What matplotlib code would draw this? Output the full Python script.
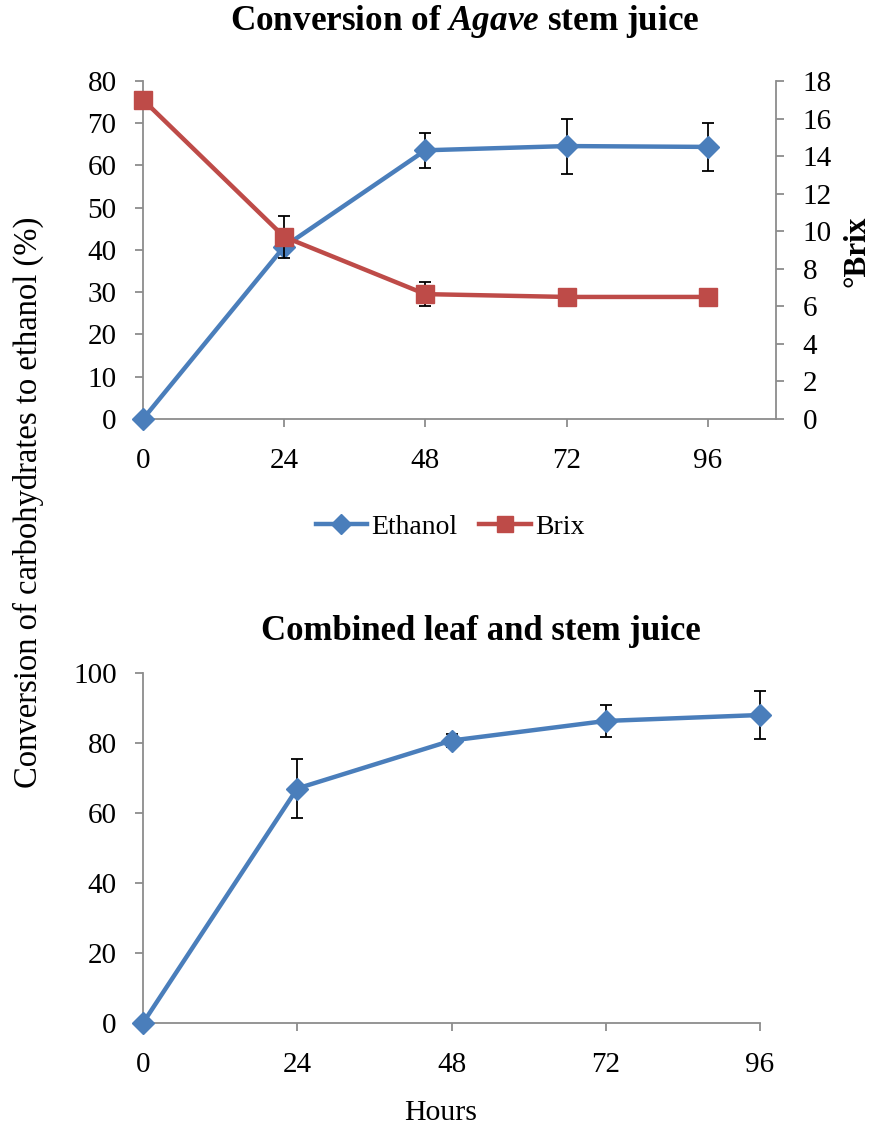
import matplotlib
matplotlib.use("Agg")
import matplotlib.pyplot as plt
from matplotlib.lines import Line2D

plt.rcParams['font.family'] = ['Liberation Serif', 'DejaVu Serif']
plt.rcParams['mathtext.fontset'] = 'custom'
plt.rcParams['mathtext.bfit'] = 'Liberation Serif:italic:bold'
plt.rcParams['mathtext.rm'] = 'Liberation Serif'
plt.rcParams['mathtext.it'] = 'Liberation Serif:italic'
plt.rcParams['mathtext.bf'] = 'Liberation Serif:bold'

hours = [0, 24, 48, 72, 96]
stem_ethanol = [0, 40.8, 63.6, 64.6, 64.4]
stem_ethanol_err = [0, 0, 4.1, 6.5, 5.7]
stem_brix = [17.0, 9.7, 6.65, 6.5, 6.5]
stem_brix_err = [0, 1.12, 0.65, 0, 0]
comb_ethanol = [0, 67.0, 80.7, 86.3, 88.0]
comb_ethanol_err = [0, 8.4, 1.9, 4.5, 6.9]
xticks = [0, 24, 48, 72, 96]

BLUE = '#4A7EBB'
RED = '#BE4B48'
GRAY = '#8C8C8C'
W, H = 873, 1131
TICK_FS = 21

fig = plt.figure(figsize=(W / 100, H / 100), dpi=100)

def ax_rect(l, r, t, b):
    return [l / W, 1 - b / H, (r - l) / W, (b - t) / H]

def style(ax):
    ax.spines['top'].set_visible(False)
    ax.spines['right'].set_visible(False)
    for s in ax.spines.values():
        s.set_color(GRAY)
        s.set_linewidth(1.3)
    ax.tick_params(colors=GRAY, labelcolor='black', labelsize=TICK_FS, length=6, width=1.3)
    ax.tick_params(axis='y', pad=13)
    ax.tick_params(axis='x', pad=15)

# Top chart
ax1 = fig.add_axes(ax_rect(143, 776, 81, 419))
ax1.set_xlim(0, 107.6)
ax1.set_ylim(0, 80)
ax1.set_yticks(range(0, 81, 10))
ax1.set_xticks(xticks)
style(ax1)
ax1.errorbar(hours, stem_ethanol, yerr=stem_ethanol_err, color=BLUE, lw=3.2,
             marker='D', ms=11, ecolor='black', elinewidth=1.3, capsize=4,
             capthick=1.3, clip_on=False, zorder=3)

ax2 = ax1.twinx()
ax2.set_ylim(0, 18)
ax2.set_yticks(range(0, 19, 2))
for s in ['top', 'left', 'bottom']:
    ax2.spines[s].set_visible(False)
ax2.spines['right'].set_color(GRAY)
ax2.spines['right'].set_linewidth(1.3)
ax2.tick_params(colors=GRAY, labelcolor='black', labelsize=TICK_FS, length=6,
                width=1.3, pad=13)
ax2.errorbar(hours, stem_brix, yerr=stem_brix_err, color=RED, lw=3.2,
             marker='s', ms=13, ecolor='black', elinewidth=1.3, capsize=4,
             capthick=1.3, clip_on=False, zorder=3)
fig.text(857 / W, 1 - 251 / H, '°Brix', rotation=90, ha='center', va='center',
         fontsize=22.5, fontweight='bold')

fig.text(465 / W, 1 - 22 / H, 'Conversion of $\\mathbfit{Agave}$ stem juice',
         ha='center', va='center', fontsize=25.3, fontweight='bold')

handles = [Line2D([], [], color=BLUE, lw=3.2, marker='D', ms=10),
           Line2D([], [], color=RED, lw=3.2, marker='s', ms=12)]
fig.legend(handles, ['Ethanol', 'Brix'], loc='center', ncol=2,
           bbox_to_anchor=(450 / W, 1 - 527 / H), frameon=False, fontsize=20,
           handlelength=1.85, columnspacing=0.8, handletextpad=0.15)

# Bottom chart
ax3 = fig.add_axes(ax_rect(143, 760, 673, 1023))
ax3.set_xlim(0, 96)
ax3.set_ylim(0, 100)
ax3.set_yticks(range(0, 101, 20))
ax3.set_xticks(xticks)
style(ax3)
ax3.errorbar(hours, comb_ethanol, yerr=comb_ethanol_err, color=BLUE, lw=3.2,
             marker='D', ms=11, ecolor='black', elinewidth=1.3, capsize=4,
             capthick=1.3, clip_on=False, zorder=3)
fig.text(481 / W, 1 - 632 / H, 'Combined leaf and stem juice',
         ha='center', va='center', fontsize=25, fontweight='bold')
fig.text(441 / W, 1 - 1113 / H, 'Hours', ha='center', va='center', fontsize=21.5)

fig.text(28 / W, 1 - 502 / H, 'Conversion of carbohydrates to ethanol (%)',
         ha='center', va='center', rotation=90, fontsize=23.5)

fig.savefig('out.png', dpi=100)
